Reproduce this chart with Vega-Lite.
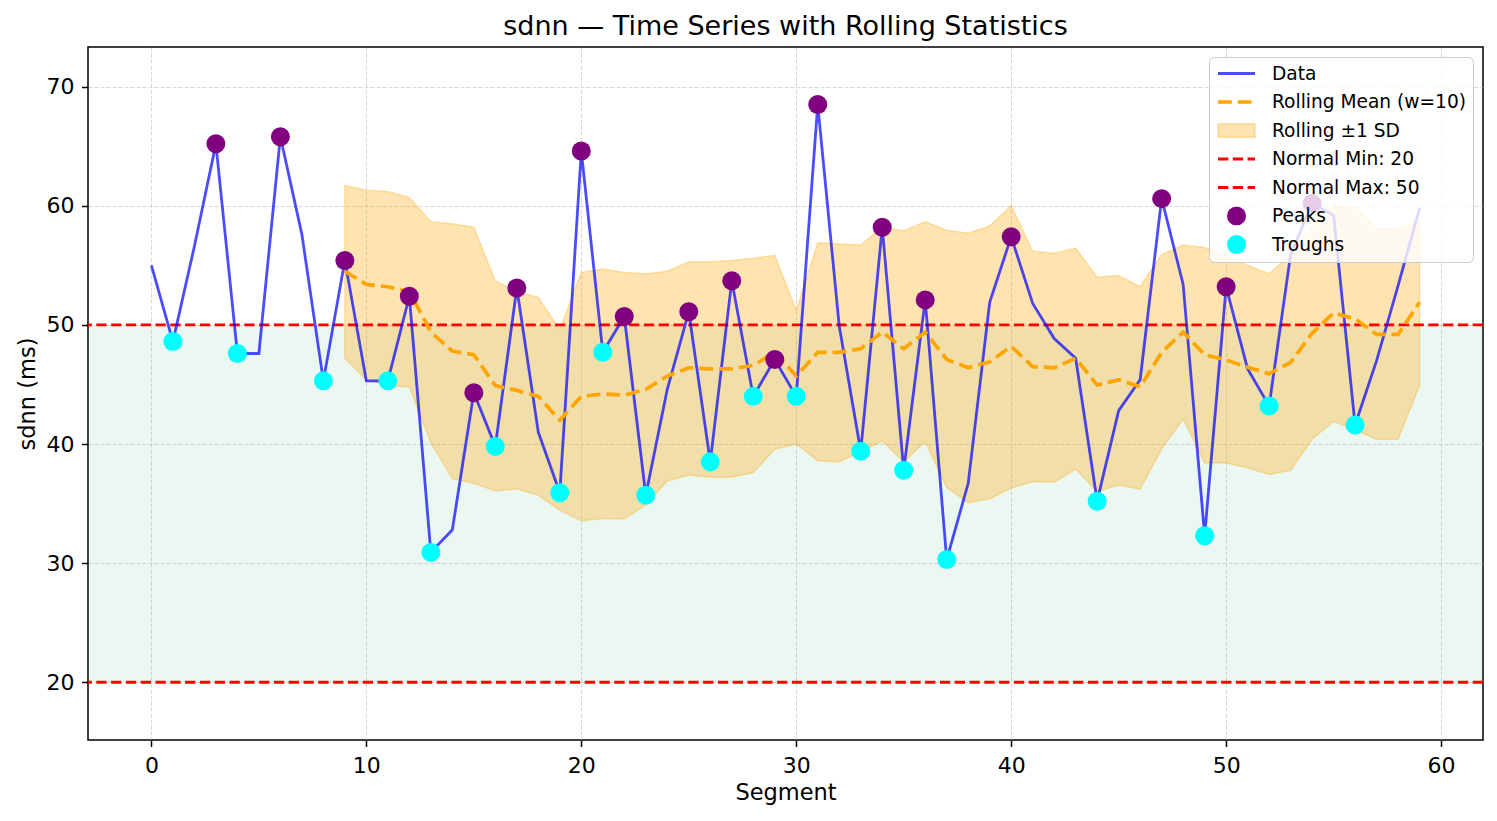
{
  "$schema": "https://vega.github.io/schema/vega-lite/v6.json",
  "width": 1395,
  "height": 693,
  "autosize": {"type": "none"},
  "padding": {"left": 88, "top": 47, "right": 14, "bottom": 81},
  "background": "white",
  "title": {"text": "sdnn — Time Series with Rolling Statistics", "font": "DejaVu Sans", "fontSize": 27, "fontWeight": "normal", "color": "black", "anchor": "middle", "baseline": "top", "offset": 6},
  "config": {
    "font": "DejaVu Sans",
    "view": {"stroke": "#000000", "strokeWidth": 1.5},
    "axis": {"labelFont": "DejaVu Sans", "labelFontSize": 22, "labelColor": "black", "titleFont": "DejaVu Sans", "titleFontSize": 22.5, "titleFontWeight": "normal", "titleColor": "black", "tickColor": "black", "tickSize": 6.5, "tickWidth": 1.5, "domain": false, "grid": true, "gridColor": "#b0b0b0", "gridOpacity": 0.5, "gridDash": [4, 2], "gridWidth": 1},
    "axisX": {"labelPadding": 9, "titlePadding": 5},
    "axisY": {"labelPadding": 7.5, "titlePadding": 7}
  },
  "datasets": {
    "series": [
      {"seg": 0, "value": 55.0, "mean": null, "upper": null, "lower": null, "kind": null},
      {"seg": 1, "value": 48.6, "mean": null, "upper": null, "lower": null, "kind": "Troughs"},
      {"seg": 2, "value": 56.6, "mean": null, "upper": null, "lower": null, "kind": null},
      {"seg": 3, "value": 65.2, "mean": null, "upper": null, "lower": null, "kind": "Peaks"},
      {"seg": 4, "value": 47.6, "mean": null, "upper": null, "lower": null, "kind": "Troughs"},
      {"seg": 5, "value": 47.6, "mean": null, "upper": null, "lower": null, "kind": null},
      {"seg": 6, "value": 65.8, "mean": null, "upper": null, "lower": null, "kind": "Peaks"},
      {"seg": 7, "value": 57.6, "mean": null, "upper": null, "lower": null, "kind": null},
      {"seg": 8, "value": 45.3, "mean": null, "upper": null, "lower": null, "kind": "Troughs"},
      {"seg": 9, "value": 55.4, "mean": 54.5, "upper": 61.7, "lower": 47.2, "kind": "Peaks"},
      {"seg": 10, "value": 45.3, "mean": 53.4, "upper": 61.3, "lower": 45.4, "kind": null},
      {"seg": 11, "value": 45.3, "mean": 53.2, "upper": 61.2, "lower": 44.9, "kind": "Troughs"},
      {"seg": 12, "value": 52.4, "mean": 52.8, "upper": 60.7, "lower": 44.8, "kind": "Peaks"},
      {"seg": 13, "value": 30.9, "mean": 49.4, "upper": 58.65, "lower": 40.1, "kind": "Troughs"},
      {"seg": 14, "value": 32.8, "mean": 47.8, "upper": 58.5, "lower": 37.1, "kind": null},
      {"seg": 15, "value": 44.3, "mean": 47.5, "upper": 58.2, "lower": 36.7, "kind": "Peaks"},
      {"seg": 16, "value": 39.8, "mean": 44.9, "upper": 53.7, "lower": 36.05, "kind": "Troughs"},
      {"seg": 17, "value": 53.1, "mean": 44.5, "upper": 52.8, "lower": 36.25, "kind": "Peaks"},
      {"seg": 18, "value": 41.0, "mean": 44.0, "upper": 52.3, "lower": 35.7, "kind": null},
      {"seg": 19, "value": 35.9, "mean": 42.0, "upper": 49.6, "lower": 34.45, "kind": "Troughs"},
      {"seg": 20, "value": 64.6, "mean": 44.0, "upper": 54.4, "lower": 33.55, "kind": "Peaks"},
      {"seg": 21, "value": 47.7, "mean": 44.2, "upper": 54.7, "lower": 33.75, "kind": "Troughs"},
      {"seg": 22, "value": 50.7, "mean": 44.1, "upper": 54.4, "lower": 33.7, "kind": "Peaks"},
      {"seg": 23, "value": 35.7, "mean": 44.6, "upper": 54.3, "lower": 34.9, "kind": "Troughs"},
      {"seg": 24, "value": 44.6, "mean": 45.7, "upper": 54.5, "lower": 36.9, "kind": null},
      {"seg": 25, "value": 51.1, "mean": 46.4, "upper": 55.3, "lower": 37.4, "kind": "Peaks"},
      {"seg": 26, "value": 38.5, "mean": 46.3, "upper": 55.3, "lower": 37.2, "kind": "Troughs"},
      {"seg": 27, "value": 53.7, "mean": 46.3, "upper": 55.4, "lower": 37.2, "kind": "Peaks"},
      {"seg": 28, "value": 44.0, "mean": 46.6, "upper": 55.6, "lower": 37.6, "kind": "Troughs"},
      {"seg": 29, "value": 47.1, "mean": 47.7, "upper": 55.85, "lower": 39.55, "kind": "Peaks"},
      {"seg": 30, "value": 44.0, "mean": 45.7, "upper": 51.2, "lower": 40.0, "kind": "Troughs"},
      {"seg": 31, "value": 68.5, "mean": 47.7, "upper": 56.9, "lower": 38.6, "kind": "Peaks"},
      {"seg": 32, "value": 49.9, "mean": 47.7, "upper": 56.8, "lower": 38.5, "kind": null},
      {"seg": 33, "value": 39.4, "mean": 48.0, "upper": 56.7, "lower": 39.35, "kind": "Troughs"},
      {"seg": 34, "value": 58.2, "mean": 49.4, "upper": 58.2, "lower": 40.25, "kind": "Peaks"},
      {"seg": 35, "value": 37.8, "mean": 48.0, "upper": 57.9, "lower": 38.5, "kind": "Troughs"},
      {"seg": 36, "value": 52.1, "mean": 49.4, "upper": 58.65, "lower": 40.2, "kind": "Peaks"},
      {"seg": 37, "value": 30.3, "mean": 47.1, "upper": 57.95, "lower": 36.35, "kind": "Troughs"},
      {"seg": 38, "value": 36.7, "mean": 46.4, "upper": 57.7, "lower": 35.07, "kind": null},
      {"seg": 39, "value": 51.9, "mean": 46.9, "upper": 58.3, "lower": 35.4, "kind": null},
      {"seg": 40, "value": 57.4, "mean": 48.2, "upper": 60.0, "lower": 36.3, "kind": "Peaks"},
      {"seg": 41, "value": 51.8, "mean": 46.5, "upper": 56.2, "lower": 36.85, "kind": null},
      {"seg": 42, "value": 48.85, "mean": 46.4, "upper": 56.0, "lower": 36.8, "kind": null},
      {"seg": 43, "value": 47.2, "mean": 47.2, "upper": 56.45, "lower": 37.9, "kind": null},
      {"seg": 44, "value": 35.2, "mean": 44.95, "upper": 54.0, "lower": 36.0, "kind": "Troughs"},
      {"seg": 45, "value": 42.8, "mean": 45.4, "upper": 54.15, "lower": 36.55, "kind": null},
      {"seg": 46, "value": 45.4, "mean": 44.8, "upper": 53.2, "lower": 36.2, "kind": null},
      {"seg": 47, "value": 60.6, "mean": 47.7, "upper": 55.9, "lower": 39.6, "kind": "Peaks"},
      {"seg": 48, "value": 53.4, "mean": 49.4, "upper": 56.7, "lower": 42.1, "kind": null},
      {"seg": 49, "value": 32.3, "mean": 47.5, "upper": 56.5, "lower": 38.4, "kind": "Troughs"},
      {"seg": 50, "value": 53.2, "mean": 47.05, "upper": 55.8, "lower": 38.4, "kind": "Peaks"},
      {"seg": 51, "value": 46.3, "mean": 46.45, "upper": 55.0, "lower": 38.0, "kind": null},
      {"seg": 52, "value": 43.2, "mean": 45.9, "upper": 54.3, "lower": 37.45, "kind": "Troughs"},
      {"seg": 53, "value": 55.9, "mean": 46.85, "upper": 55.9, "lower": 37.8, "kind": null},
      {"seg": 54, "value": 60.2, "mean": 49.3, "upper": 58.2, "lower": 40.4, "kind": "Peaks"},
      {"seg": 55, "value": 59.2, "mean": 51.0, "upper": 60.0, "lower": 41.9, "kind": null},
      {"seg": 56, "value": 41.6, "mean": 50.5, "upper": 59.9, "lower": 41.2, "kind": "Troughs"},
      {"seg": 57, "value": 47.0, "mean": 49.2, "upper": 58.1, "lower": 40.4, "kind": null},
      {"seg": 58, "value": 53.3, "mean": 49.2, "upper": 58.1, "lower": 40.4, "kind": null},
      {"seg": 59, "value": 59.8, "mean": 51.9, "upper": 58.8, "lower": 44.95, "kind": null}
    ],
    "thresholds": [
      {"label": "Normal Min: 20", "level": 20},
      {"label": "Normal Max: 50", "level": 50}
    ],
    "normal_range": [{"low": 20, "high": 50}]
  },
  "layer": [
    {
      "data": {"name": "normal_range"},
      "mark": {"type": "rect", "fill": "#3cb371", "opacity": 0.1},
      "encoding": {
        "y": {"field": "low", "type": "quantitative", "scale": {"domain": [15.15, 73.33], "nice": false, "zero": false}, "axis": {"title": "sdnn (ms)", "values": [20, 30, 40, 50, 60, 70]}},
        "y2": {"field": "high"}
      }
    },
    {
      "data": {"name": "series"},
      "transform": [{"filter": "datum.upper != null"}],
      "mark": {"type": "area", "fill": "orange", "fillOpacity": 0.3, "stroke": "orange", "strokeOpacity": 0.3, "strokeWidth": 1.5},
      "encoding": {
        "x": {"field": "seg", "type": "quantitative", "scale": {"domain": [-2.95, 61.95], "nice": false, "zero": false}, "axis": {"title": "Segment", "values": [0, 10, 20, 30, 40, 50, 60]}},
        "y": {"field": "lower", "type": "quantitative"},
        "y2": {"field": "upper"}
      }
    },
    {
      "data": {"name": "thresholds"},
      "mark": {"type": "rule", "color": "red", "strokeWidth": 2.8, "strokeDash": [10.3, 4.5]},
      "encoding": {
        "y": {"field": "level", "type": "quantitative"}
      }
    },
    {
      "data": {"name": "series"},
      "mark": {"type": "line", "color": "blue", "opacity": 0.7, "strokeWidth": 2.8},
      "encoding": {
        "x": {"field": "seg", "type": "quantitative"},
        "y": {"field": "value", "type": "quantitative"}
      }
    },
    {
      "data": {"name": "series"},
      "transform": [{"filter": "datum.mean != null"}],
      "mark": {"type": "line", "color": "orange", "strokeWidth": 3.7, "strokeDash": [13.8, 6]},
      "encoding": {
        "x": {"field": "seg", "type": "quantitative"},
        "y": {"field": "mean", "type": "quantitative"}
      }
    },
    {
      "data": {"name": "series"},
      "transform": [{"filter": "datum.kind != null"}],
      "mark": {"type": "point", "filled": false, "opacity": 1},
      "encoding": {
        "x": {"field": "seg", "type": "quantitative"},
        "y": {"field": "value", "type": "quantitative"},
        "color": {
          "field": "kind",
          "type": "nominal",
          "scale": {
            "domain": ["Data", "Rolling Mean (w=10)", "Rolling ±1 SD", "Normal Min: 20", "Normal Max: 50", "Peaks", "Troughs"],
            "range": ["rgba(0,0,255,0.7)", "orange", "rgba(255,165,0,0.3)", "red", "red", "transparent", "transparent"]
          },
          "legend": {
            "title": null,
            "orient": "top-right",
            "offset": 10,
            "padding": 7,
            "fillColor": "rgba(255,255,255,0.8)",
            "strokeColor": "#cccccc",
            "cornerRadius": 5,
            "labelFont": "DejaVu Sans",
            "labelFontSize": 18.6,
            "labelColor": "black",
            "labelBaseline": "middle",
            "labelOffset": 15,
            "labelLimit": 400,
            "symbolSize": 1369,
            "symbolOpacity": 1,
            "clipHeight": 19,
            "rowPadding": 8.5
          }
        },
        "fill": {
          "field": "kind",
          "type": "nominal",
          "scale": {
            "domain": ["Data", "Rolling Mean (w=10)", "Rolling ±1 SD", "Normal Min: 20", "Normal Max: 50", "Peaks", "Troughs"],
            "range": ["transparent", "transparent", "rgba(255,165,0,0.3)", "transparent", "transparent", "purple", "cyan"]
          }
        },
        "shape": {
          "field": "kind",
          "type": "nominal",
          "scale": {
            "domain": ["Data", "Rolling Mean (w=10)", "Rolling ±1 SD", "Normal Min: 20", "Normal Max: 50", "Peaks", "Troughs"],
            "range": ["stroke", "stroke", "M-1,-0.36H1V0.36H-1Z", "stroke", "stroke", "circle", "circle"]
          }
        },
        "size": {
          "field": "kind",
          "type": "nominal",
          "scale": {
            "type": "ordinal",
            "domain": ["Data", "Rolling Mean (w=10)", "Rolling ±1 SD", "Normal Min: 20", "Normal Max: 50", "Peaks", "Troughs"],
            "range": [1369, 1369, 1369, 1369, 1369, 361, 361]
          }
        },
        "strokeWidth": {
          "field": "kind",
          "type": "nominal",
          "scale": {
            "type": "ordinal",
            "domain": ["Data", "Rolling Mean (w=10)", "Rolling ±1 SD", "Normal Min: 20", "Normal Max: 50", "Peaks", "Troughs"],
            "range": [2.8, 3.7, 1.5, 2.8, 2.8, 0, 0]
          }
        },
        "strokeDash": {
          "field": "kind",
          "type": "nominal",
          "scale": {
            "domain": ["Data", "Rolling Mean (w=10)", "Rolling ±1 SD", "Normal Min: 20", "Normal Max: 50", "Peaks", "Troughs"],
            "range": [[1, 0], [13.8, 6], [1, 0], [10.3, 4.5], [10.3, 4.5], [1, 0], [1, 0]]
          }
        }
      }
    }
  ]
}
